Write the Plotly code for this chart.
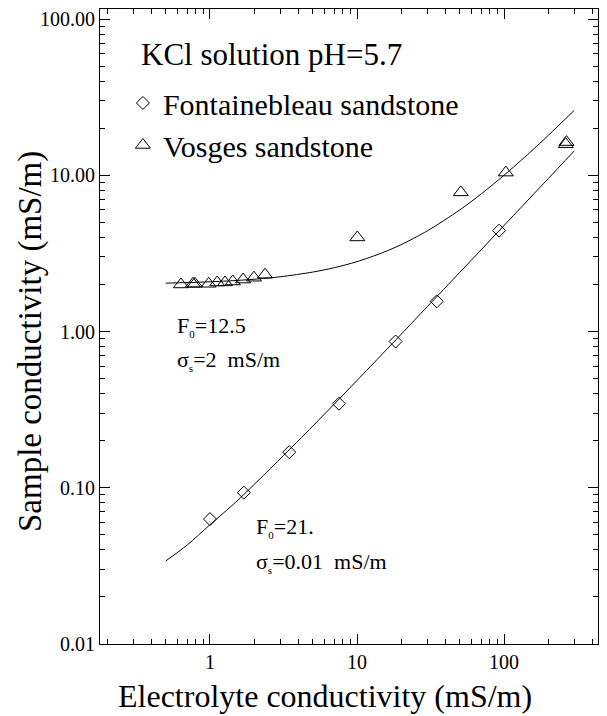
import plotly.graph_objects as go

# ---- data ----
font_x_fontainebleau = [1.0, 1.70, 3.46, 7.54, 18.3, 34.9, 92.5]
font_y_fontainebleau = [0.063, 0.093, 0.169, 0.345, 0.863, 1.56, 4.42]

vos_x = [0.635, 0.766, 0.79, 0.98, 1.12, 1.265, 1.43, 1.68, 1.99, 2.37, 10.05, 50.8, 102.8, 263, 266]
vos_y = [2.00, 2.02, 2.02, 2.02, 2.06, 2.06, 2.09, 2.15, 2.21, 2.31, 4.0, 7.77, 10.4, 15.8, 16.3]

# model curves
curve_x = [0.5, 0.7, 1, 1.5, 2, 3, 5, 7, 10, 15, 20, 30, 50, 70, 100, 150, 200, 300]
curve_vosges = [2.04, 2.056, 2.08, 2.12, 2.16, 2.24, 2.4, 2.56, 2.8, 3.2, 3.6, 4.4, 6.0, 7.6, 10.0, 14.0, 18.0, 26.0]
curve_font = [0.034, 0.043, 0.058, 0.081, 0.105, 0.153, 0.248, 0.343, 0.486, 0.724, 0.962, 1.44, 2.39, 3.34, 4.77, 7.15, 9.53, 14.3]

y_tick_vals = [0.01, 0.1, 1, 10, 100]
y_tick_text = ["0.01", "0.10", "1.00", "10.00", "100.00"]
x_tick_vals = [1, 10, 100]
x_tick_text = ["1", "10", "100"]

# minor tick positions (2..9 within each decade)
x_minor = [m * d for d in [0.1, 1, 10, 100] for m in range(2, 10)]
y_minor = [m * d for d in [0.01, 0.1, 1, 10, 100] for m in range(2, 10)]

FONT = "Liberation Serif"

fig = go.Figure()
fig.add_trace(go.Scatter(x=curve_x, y=curve_vosges, mode="lines",
                         line=dict(color="black", width=1, shape="spline", smoothing=0.8),
                         showlegend=False, hoverinfo="skip"))
fig.add_trace(go.Scatter(x=curve_x, y=curve_font, mode="lines",
                         line=dict(color="black", width=1, shape="spline", smoothing=0.8),
                         showlegend=False, hoverinfo="skip"))
fig.add_trace(go.Scatter(x=font_x_fontainebleau, y=font_y_fontainebleau, mode="markers",
                         name="Fontainebleau sandstone",
                         marker=dict(symbol="diamond-open", size=10, color="black",
                                     line=dict(width=1, color="black"))))
fig.add_trace(go.Scatter(x=vos_x, y=vos_y, mode="markers",
                         name="Vosges sandstone",
                         marker=dict(symbol="triangle-up-open", size=13, color="black",
                                     line=dict(width=1, color="black"))))

axis_common = dict(
    type="log", showgrid=False, zeroline=False, showline=True, linecolor="black",
    linewidth=1, mirror="allticks", ticks="inside", ticklen=10, tickcolor="black",
    tickwidth=1, tickfont=dict(family=FONT, size=20, color="black"),
)

fig.update_xaxes(range=[-0.748, 2.639], tickmode="array", tickvals=x_tick_vals,
                 ticktext=x_tick_text,
                 minor=dict(tickmode="array", tickvals=x_minor, ticks="inside", ticklen=5,
                            tickcolor="black", tickwidth=1, showgrid=False),
                 **axis_common)
fig.update_yaxes(range=[-2, 2.064], tickmode="array", tickvals=y_tick_vals,
                 ticktext=y_tick_text,
                 minor=dict(tickmode="array", tickvals=y_minor, ticks="inside", ticklen=5,
                            tickcolor="black", tickwidth=1, showgrid=False),
                 **axis_common)

SUB = '<sub><span style="font-size:11px">{}</span></sub>'

ann = []
ann.append(dict(text="KCl solution pH=5.7", x=0.078, y=0.929, xref="paper", yref="paper",
                xanchor="left", yanchor="middle", showarrow=False,
                font=dict(family=FONT, size=31, color="black")))
ann.append(dict(text="F" + SUB.format("0") + "=12.5", x=0.1506, y=0.5, xref="paper", yref="paper",
                xanchor="left", yanchor="middle", showarrow=False,
                font=dict(family=FONT, size=22, color="black")))
ann.append(dict(text="σ" + SUB.format("s") + "=2  mS/m", x=0.1506, y=0.447, xref="paper", yref="paper",
                xanchor="left", yanchor="middle", showarrow=False,
                font=dict(family=FONT, size=22, color="black")))
ann.append(dict(text="F" + SUB.format("0") + "=21.", x=0.309, y=0.183, xref="paper", yref="paper",
                xanchor="left", yanchor="middle", showarrow=False,
                font=dict(family=FONT, size=22, color="black")))
ann.append(dict(text="σ" + SUB.format("s") + "=0.01  mS/m", x=0.309, y=0.1276, xref="paper", yref="paper",
                xanchor="left", yanchor="middle", showarrow=False,
                font=dict(family=FONT, size=22, color="black")))
ann.append(dict(text="Electrolyte conductivity (mS/m)", x=0.452, y=-0.082, xref="paper",
                yref="paper", xanchor="center", yanchor="middle", showarrow=False,
                font=dict(family=FONT, size=32, color="black")))
ann.append(dict(text="Sample conductivity (mS/m)", x=-0.14, y=0.476, xref="paper",
                yref="paper", xanchor="center", yanchor="middle", showarrow=False,
                textangle=-90, font=dict(family=FONT, size=33, color="black")))

fig.update_layout(
    width=607, height=716,
    margin=dict(l=100, r=9, t=9, b=72),
    plot_bgcolor="white", paper_bgcolor="white",
    annotations=ann,
    legend=dict(x=0.046, y=0.893, xanchor="left", yanchor="top",
                bgcolor="rgba(0,0,0,0)", borderwidth=0, tracegroupgap=0,
                traceorder="normal",
                font=dict(family=FONT, size=30, color="black")),
)

fig.write_html("out.html", config={"displayModeBar": False},
               post_script="document.body.style.margin='0';")
